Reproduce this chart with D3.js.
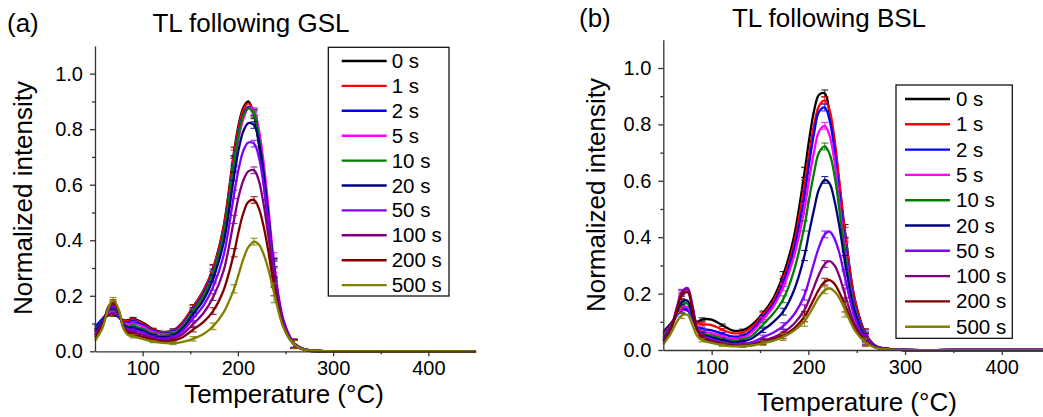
<!DOCTYPE html>
<html>
<head>
<meta charset="utf-8">
<script src="https://cdn.jsdelivr.net/npm/d3@7"></script>
<style>
  html, body { margin: 0; padding: 0; background: #fff; }
  svg { display: block; font-family: "Liberation Sans", Arial, sans-serif; }
</style>
</head>
<body>
<svg id="chart" width="1043" height="417"></svg>
<script>
// ---------------- DATA ----------------
const temps = [50,58,64,69,75,80,85,90,100,111,121,132,142,153,164,174,185,196,201,206,211,217,222,227,232,238,248,259,269,280,300,350,400,450];
const errTemps = [69,90,111,132,153,174,196,217,238,259,280];
const seriesLabels = ["0 s","1 s","2 s","5 s","10 s","20 s","50 s","100 s","200 s","500 s"];
const xTickValues = [100,200,300,400];
const xMinorTicks = [150,250,350];
const yTickValues = [0,0.2,0.4,0.6,0.8,1.0];
const yTickLabels = ["0.0","0.2","0.4","0.6","0.8","1.0"];
const yMinorTicks = [0.1,0.3,0.5,0.7,0.9];

// (a) TL following GSL
const gsl0   = [0.080,0.112,0.130,0.134,0.122,0.112,0.113,0.116, 0.104,0.079,0.070,0.076,0.105,0.160,0.220,0.300,0.450,0.720, 0.820,0.880,0.900,0.850,0.745,0.610,0.450,0.270, 0.090,0.025,0.007,0.002, 0,0,0,0];
const gsl1   = [0.078,0.115,0.135,0.140,0.125,0.110,0.110,0.112, 0.100,0.076,0.068,0.074,0.103,0.158,0.218,0.298,0.445,0.710, 0.810,0.872,0.893,0.860,0.770,0.640,0.480,0.290, 0.100,0.027,0.008,0.002, 0,0,0,0];
const gsl2   = [0.088,0.118,0.140,0.145,0.125,0.105,0.104,0.106, 0.095,0.072,0.064,0.069,0.097,0.150,0.208,0.285,0.425,0.685, 0.790,0.855,0.880,0.860,0.780,0.650,0.495,0.300, 0.105,0.028,0.008,0.002, 0,0,0,0];
const gsl5   = [0.072,0.110,0.140,0.150,0.128,0.102,0.098,0.100, 0.090,0.068,0.061,0.066,0.093,0.145,0.200,0.275,0.410,0.665, 0.770,0.840,0.875,0.865,0.800,0.680,0.520,0.320, 0.112,0.030,0.008,0.002, 0,0,0,0];
const gsl10  = [0.074,0.110,0.145,0.155,0.130,0.098,0.090,0.090, 0.082,0.062,0.056,0.062,0.090,0.145,0.200,0.280,0.420,0.680, 0.785,0.850,0.875,0.855,0.775,0.645,0.490,0.295, 0.102,0.028,0.008,0.002, 0,0,0,0];
const gsl20  = [0.070,0.108,0.148,0.160,0.132,0.095,0.085,0.083, 0.075,0.057,0.051,0.057,0.083,0.133,0.185,0.262,0.390,0.630, 0.730,0.795,0.822,0.815,0.755,0.640,0.490,0.300, 0.105,0.028,0.008,0.002, 0,0,0,0];
const gsl50  = [0.062,0.102,0.150,0.165,0.135,0.090,0.078,0.075, 0.068,0.051,0.046,0.051,0.073,0.118,0.165,0.232,0.345,0.565, 0.660,0.725,0.752,0.748,0.700,0.600,0.465,0.290, 0.102,0.028,0.008,0.002, 0,0,0,0];
const gsl100 = [0.056,0.098,0.155,0.172,0.140,0.088,0.072,0.068, 0.060,0.045,0.040,0.044,0.062,0.098,0.138,0.195,0.290,0.475, 0.560,0.618,0.648,0.652,0.615,0.530,0.415,0.265, 0.095,0.026,0.007,0.002, 0,0,0,0];
const gsl200 = [0.050,0.095,0.160,0.178,0.145,0.085,0.067,0.061, 0.052,0.040,0.035,0.038,0.051,0.078,0.106,0.145,0.220,0.355, 0.435,0.500,0.538,0.545,0.515,0.450,0.360,0.235, 0.088,0.025,0.007,0.002, 0,0,0,0];
const gsl500 = [0.038,0.085,0.155,0.186,0.150,0.080,0.058,0.054, 0.045,0.035,0.030,0.029,0.034,0.045,0.062,0.090,0.140,0.225, 0.280,0.335,0.375,0.395,0.385,0.350,0.295,0.210, 0.085,0.025,0.007,0.002, 0,0,0,0];
const gslErr = [0.008,0.006,0.004,0.005,0.008,0.012,0.015,0.012,0.035,0.015,0.003];

// (b) TL following BSL
const bsl0   = [0.065,0.095,0.125,0.140,0.140,0.120,0.100,0.108, 0.108,0.088,0.070,0.070,0.090,0.130,0.185,0.266,0.400,0.630, 0.750,0.850,0.905,0.910,0.840,0.730,0.590,0.420, 0.180,0.060,0.016,0.004, 0,0,0,0];
const bsl1   = [0.060,0.090,0.125,0.150,0.150,0.120,0.095,0.092, 0.088,0.072,0.060,0.062,0.083,0.124,0.175,0.250,0.375,0.585, 0.700,0.800,0.865,0.885,0.850,0.750,0.600,0.410, 0.180,0.058,0.015,0.004, 0,0,0,0];
const bsl2   = [0.055,0.088,0.122,0.142,0.142,0.112,0.082,0.075, 0.070,0.058,0.048,0.050,0.072,0.115,0.165,0.238,0.355,0.545, 0.665,0.770,0.845,0.860,0.815,0.710,0.560,0.375, 0.160,0.052,0.014,0.004, 0,0,0,0];
const bsl5   = [0.050,0.085,0.125,0.150,0.152,0.115,0.078,0.066, 0.060,0.048,0.040,0.043,0.064,0.108,0.155,0.222,0.330,0.500, 0.610,0.705,0.775,0.795,0.760,0.670,0.530,0.355, 0.150,0.048,0.013,0.003, 0,0,0,0];
const bsl10  = [0.045,0.082,0.130,0.160,0.165,0.120,0.075,0.060, 0.052,0.040,0.034,0.036,0.052,0.090,0.130,0.180,0.280,0.440, 0.540,0.630,0.700,0.722,0.695,0.620,0.500,0.335, 0.145,0.046,0.012,0.003, 0,0,0,0];
const bsl20  = [0.040,0.080,0.135,0.170,0.175,0.125,0.072,0.055, 0.045,0.034,0.028,0.030,0.042,0.070,0.100,0.136,0.210,0.335, 0.420,0.500,0.570,0.603,0.590,0.530,0.440,0.310, 0.135,0.044,0.012,0.003, 0,0,0,0];
const bsl50  = [0.035,0.080,0.150,0.205,0.220,0.160,0.080,0.052, 0.038,0.026,0.021,0.022,0.028,0.045,0.062,0.085,0.125,0.195, 0.250,0.310,0.365,0.410,0.420,0.395,0.345,0.255, 0.115,0.040,0.011,0.003, 0,0,0,0];
const bsl100 = [0.032,0.078,0.148,0.200,0.215,0.155,0.075,0.048, 0.034,0.022,0.017,0.017,0.021,0.033,0.045,0.062,0.092,0.142, 0.180,0.225,0.268,0.305,0.315,0.300,0.262,0.195, 0.092,0.034,0.010,0.003, 0,0,0,0];
const bsl200 = [0.030,0.075,0.142,0.192,0.205,0.148,0.070,0.045, 0.030,0.020,0.015,0.015,0.019,0.028,0.038,0.052,0.076,0.118, 0.148,0.182,0.215,0.242,0.248,0.235,0.205,0.160, 0.078,0.030,0.009,0.002, 0,0,0,0];
const bsl500 = [0.020,0.060,0.100,0.122,0.125,0.090,0.050,0.035, 0.025,0.017,0.013,0.013,0.016,0.024,0.033,0.046,0.068,0.102, 0.128,0.158,0.188,0.212,0.219,0.208,0.185,0.142, 0.070,0.027,0.008,0.002, 0,0,0,0];
const bslErr = [0.010,0.006,0.004,0.004,0.008,0.012,0.018,0.012,0.025,0.015,0.003];

const colors = ["#000000","#ff0000","#0000ff","#ff00ff","#008000","#000080","#8000ff","#800080","#800000","#808000"];

// ---------------- DRAW ----------------
const svg = d3.select("#chart");
const FONT = '"Liberation Sans", Arial, sans-serif';

function drawPanel(cfg) {
  const x = d3.scaleLinear().domain([50, 450]).range(cfg.xRange);
  const y = d3.scaleLinear().domain([0, 1.1]).range(cfg.yRange);
  const g = svg.append("g");

  const line = d3.line()
    .x(d => x(d[0]))
    .y(d => y(Math.max(0, d[1])))
    .curve(d3.curveCatmullRom.alpha(0.5));

  cfg.series.forEach((vals, i) => {
    const pts = temps.map((t, k) => [t, vals[k]]);
    g.append("path")
      .attr("d", line(pts))
      .attr("fill", "none")
      .attr("stroke", colors[i])
      .attr("stroke-width", 2.3);
    errTemps.forEach((t, k) => {
      const idx = temps.indexOf(t);
      const v = vals[idx];
      const e = cfg.err[k];
      const xc = x(t);
      const eg = g.append("g").attr("stroke", colors[i]).attr("stroke-width", 1.1).attr("opacity", 0.85);
      eg.append("line").attr("x1", xc).attr("x2", xc).attr("y1", y(v - e)).attr("y2", y(v + e));
      eg.append("line").attr("x1", xc - 3.5).attr("x2", xc + 3.5).attr("y1", y(v + e)).attr("y2", y(v + e));
      eg.append("line").attr("x1", xc - 3.5).attr("x2", xc + 3.5).attr("y1", y(v - e)).attr("y2", y(v - e));
    });
  });

  const axisColor = "#333";
  const xAxis = g.append("g").attr("transform", `translate(0,${cfg.yRange[0]})`)
    .call(d3.axisBottom(x).tickValues(xTickValues).tickSize(5).tickSizeOuter(0).tickPadding(5));
  const xMinor = g.append("g").attr("transform", `translate(0,${cfg.yRange[0]})`)
    .call(d3.axisBottom(x).tickValues(xMinorTicks).tickSize(3).tickFormat(""));
  xMinor.select(".domain").remove();
  const yAxis = g.append("g").attr("transform", `translate(${cfg.xRange[0]},0)`)
    .call(d3.axisLeft(y).tickValues(yTickValues).tickFormat((d, i) => yTickLabels[i]).tickSize(5).tickSizeOuter(0).tickPadding(7));
  const yMinor = g.append("g").attr("transform", `translate(${cfg.xRange[0]},0)`)
    .call(d3.axisLeft(y).tickValues(yMinorTicks).tickSize(3).tickFormat(""));
  yMinor.select(".domain").remove();
  [xAxis, xMinor, yAxis, yMinor].forEach(a => {
    a.selectAll("path,line").attr("stroke", axisColor).attr("stroke-width", 1.3);
    a.selectAll("text").attr("fill", "#000").style("font-family", FONT).style("font-size", "20px");
  });

  svg.append("text").attr("x", cfg.tagX).attr("y", cfg.titleY)
    .style("font-family", FONT).style("font-size", "26px").text(cfg.tag);
  svg.append("text").attr("x", cfg.titleX).attr("y", cfg.titleY).attr("text-anchor", "middle")
    .style("font-family", FONT).style("font-size", "26px").text(cfg.title);
  svg.append("text").attr("x", cfg.xTitleX).attr("y", cfg.xTitleY).attr("text-anchor", "middle")
    .style("font-family", FONT).style("font-size", "26px").text("Temperature (\u00B0C)");
  svg.append("text").attr("transform", `translate(${cfg.yTitleX},${cfg.yTitleY}) rotate(-90)`)
    .attr("text-anchor", "middle")
    .style("font-family", FONT).style("font-size", "26px").text("Normalized intensity");

  const L = cfg.legend;
  svg.append("rect").attr("x", L.x0).attr("y", L.y0).attr("width", L.x1 - L.x0).attr("height", L.y1 - L.y0)
    .attr("fill", "#fff").attr("stroke", "#000").attr("stroke-width", 1.2);
  seriesLabels.forEach((lab, i) => {
    const yy = L.rowY + i * L.step;
    svg.append("line").attr("x1", L.lx0).attr("x2", L.lx1).attr("y1", yy).attr("y2", yy)
      .attr("stroke", colors[i]).attr("stroke-width", 2.4);
    svg.append("text").attr("x", L.tx).attr("y", yy + 7)
      .style("font-family", FONT).style("font-size", "20.5px").text(lab);
  });
}

drawPanel({
  series: [gsl0, gsl1, gsl2, gsl5, gsl10, gsl20, gsl50, gsl100, gsl200, gsl500],
  err: gslErr,
  xRange: [95, 476], yRange: [351.3, 45.9],
  tag: "(a)", tagX: 7, title: "TL following GSL", titleX: 251, titleY: 32,
  xTitleX: 284, xTitleY: 403, yTitleX: 32, yTitleY: 198,
  legend: { x0: 328.3, x1: 449, y0: 47.3, y1: 296, lx0: 341.7, lx1: 386.7, tx: 391.7, rowY: 61, step: 24.9 }
});

drawPanel({
  series: [bsl0, bsl1, bsl2, bsl5, bsl10, bsl20, bsl50, bsl100, bsl200, bsl500],
  err: bslErr,
  xRange: [663.3, 1050.1], yRange: [350, 39.8],
  tag: "(b)", tagX: 579, title: "TL following BSL", titleX: 829, titleY: 27,
  xTitleX: 857, xTitleY: 411, yTitleX: 605, yTitleY: 195,
  legend: { x0: 896, x1: 1012.3, y0: 85, y1: 338.3, lx0: 905, lx1: 950, tx: 956, rowY: 99, step: 25.3 }
});
</script>
</body>
</html>
